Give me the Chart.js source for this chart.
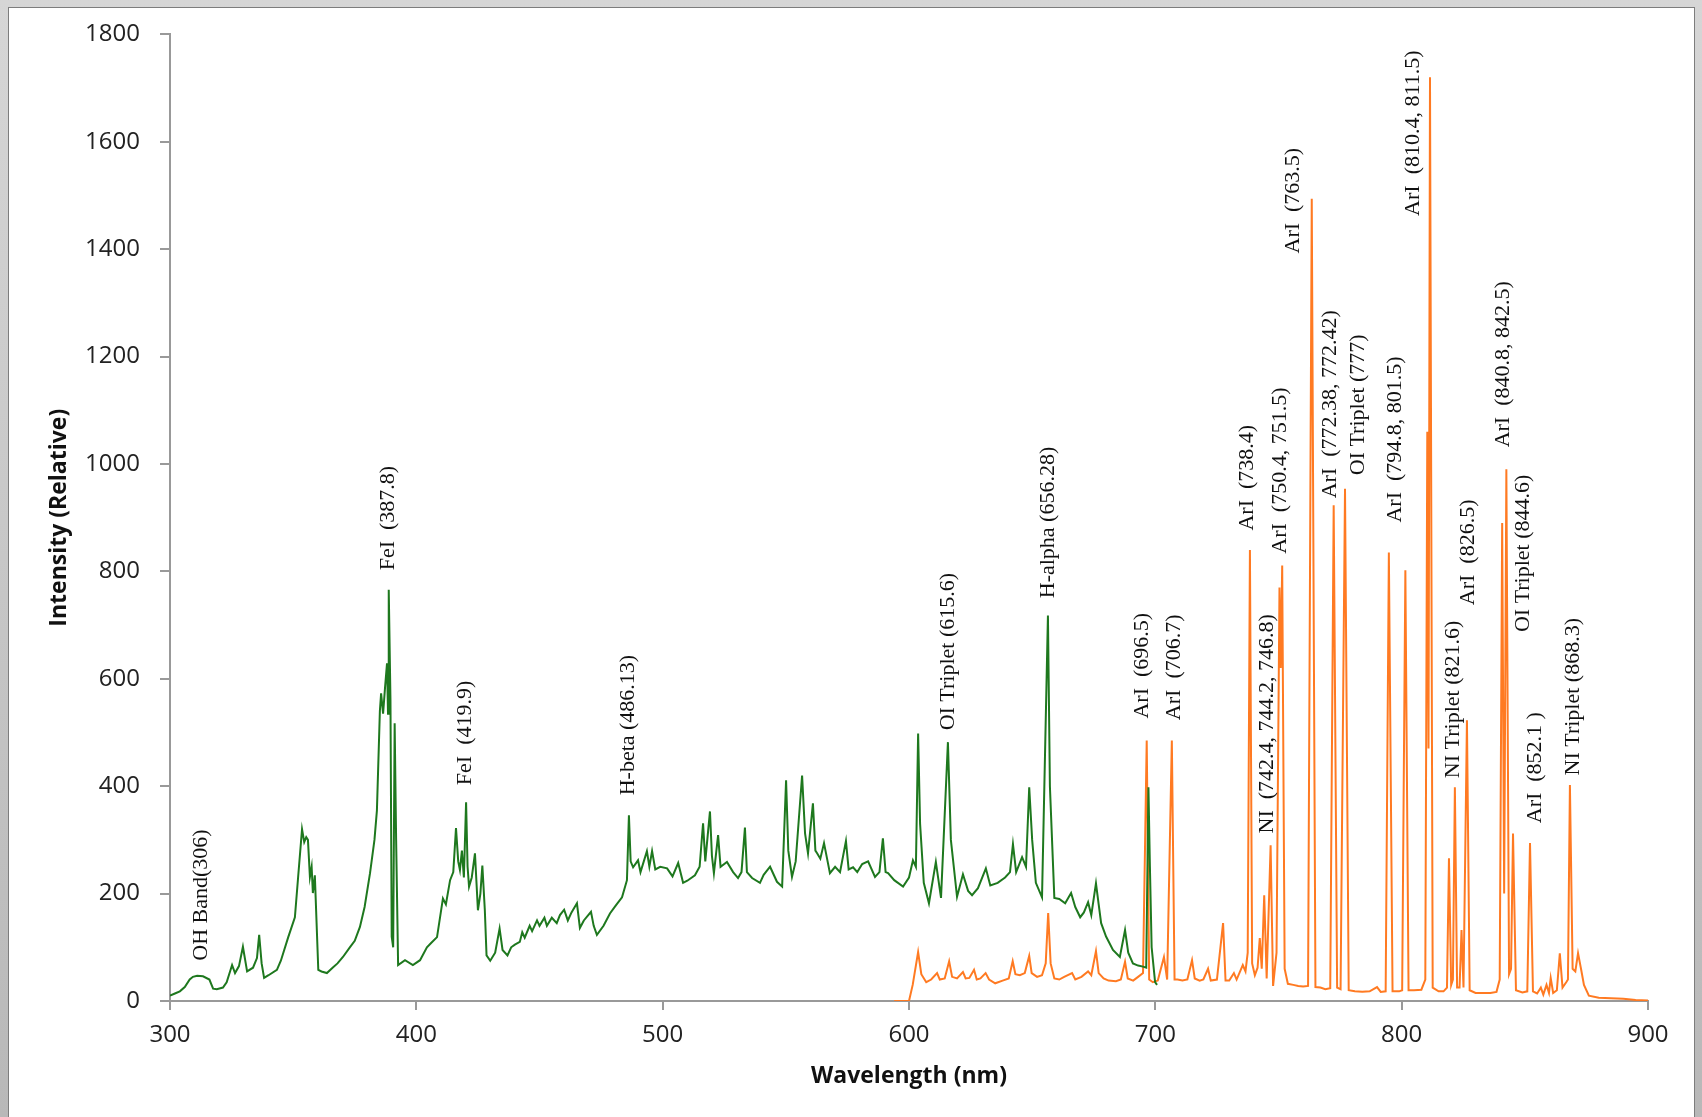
<!DOCTYPE html>
<html>
<head>
<meta charset="utf-8">
<script src="https://cdn.jsdelivr.net/npm/chart.js@4.4.0/dist/chart.umd.min.js"></script>
<style>
    html, body { margin: 0; padding: 0; overflow: hidden; }
    body { width: 1702px; height: 1117px; background: linear-gradient(#d6d6d6, #b8b8b8); position: relative; }
    #frame { position: absolute; left: 8px; top: 7px; width: 1685px; height: 1120px; background: #fff; border: 1px solid #7d7d7d; border-bottom: none; }
    #wrap { position: absolute; left: 0; top: 0; width: 1702px; height: 1117px; }
</style>
</head>
<body>
<div id="frame"></div>
<div id="wrap"><canvas id="spectrum"></canvas></div>
<script>
// axis ticks
var xTicks = [300, 400, 500, 600, 700, 800, 900];
var yTicks = [0, 200, 400, 600, 800, 1000, 1200, 1400, 1600, 1800];

// green spectrum (300 - 700 nm)
var greenWavelength = [
    300, 302, 304, 306, 308, 309.3, 311, 313.4, 316, 317.5, 319, 321.5,
    323, 325.2, 326.4, 328, 329.6, 331.3, 333.7, 335.3, 336.2, 337.2, 338.2, 340,
    343.4, 345, 348, 350.7, 352, 353.6, 354.5, 355.3, 356, 356.8, 357.5, 358,
    358.8, 360.2, 361.5, 363.7, 366, 368, 370.2, 373, 375, 377.1, 379, 381.2, 383, 384,
    385.2, 385.7, 386.5, 387.3, 388.1, 388.5, 388.8, 389.5, 390, 390.6, 391.2, 391.8,
    392.6, 395.4, 398.6, 401.5, 404.3, 406, 408.4, 410.8, 412, 413.7, 415, 416.1,
    417, 417.7, 418.5, 419.3, 420.2, 420.8, 421.4, 422.5, 423.8, 425, 426, 426.8,
    427.8, 428.5, 430, 432, 433.8, 435, 437, 438.5, 440, 442, 443, 444, 446, 447,
    449, 450, 452, 453, 455, 457, 458.3, 460, 461.5, 463, 465.2, 466.4,
    468, 470.9, 472, 473.3, 476, 478.6, 481, 483.5, 485.5, 486.3, 487, 488,
    490, 491, 493.6, 494.6, 495.7, 497, 499, 501.8, 504, 506.3, 508.3, 510,
    513.1, 515, 516.4, 517.3, 519.2, 520, 520.8, 522.5, 523.5, 526.1, 528.6, 530.6,
    532, 533.4, 534.2, 536.3, 539.5, 541, 543.6, 546.4, 548.5, 550.1, 551, 552.5,
    554, 556.6, 557.8, 559, 561, 562, 562.7, 564, 565.5, 567.9, 570, 572,
    574.4, 575.5, 577.3, 579, 581, 583.4, 586.2, 588, 589.4, 590.5, 591.5, 594,
    597.6, 600, 601.6, 602.8, 603.7, 604.5, 606, 608.1, 610.9, 613, 615.8, 617,
    619.5, 621.9, 624, 625.6, 628, 631.2, 633, 636, 639, 641, 642.2, 643.5,
    645.9, 647.5, 648.8, 650, 651.5, 654, 656.4, 657.2, 659, 661, 663.4, 665.8,
    667.5, 669.5, 671, 672.7, 674, 675.9, 677, 678, 680, 682.8, 685.6, 687.7,
    689, 690.9, 693, 695, 696.3, 697.2, 697.8, 698.5, 699.9, 700.7
];
var greenIntensity = [
    10, 14, 18, 26, 40, 45, 47, 46, 40, 23, 22, 25,
    35, 67, 52, 65, 101, 55, 62, 80, 123, 70, 43, 48,
    58, 75, 119, 156, 230, 320, 296, 305, 300, 231, 250, 201,
    234, 58, 55, 52, 62, 70, 82, 100, 112, 138, 175, 238, 300, 355,
    540, 573, 535, 584, 629, 535, 766, 560, 120, 100, 517, 300,
    67, 76, 67, 76, 100, 108, 119, 191, 180, 225, 240, 322,
    260, 244, 280, 230, 370, 250, 213, 230, 275, 169, 200, 252,
    170, 85, 75, 90, 135, 95, 85, 100, 105, 110, 128, 118, 140, 130,
    150, 140, 155, 140, 155, 145, 160, 170, 150, 165, 182, 136,
    150, 166, 140, 123, 140, 163, 178, 193, 225, 346, 260, 249,
    262, 240, 279, 250, 279, 245, 250, 247, 232, 257, 220, 224,
    234, 250, 331, 260, 353, 270, 238, 309, 250, 259, 240, 229,
    240, 323, 240, 229, 220, 235, 250, 222, 213, 411, 280, 231,
    260, 420, 312, 275, 368, 280, 275, 265, 294, 238, 250, 240,
    298, 245, 249, 240, 255, 260, 231, 240, 303, 240, 238, 225,
    213, 230, 262, 250, 498, 330, 220, 182, 259, 192, 482, 300,
    194, 236, 205, 197, 210, 247, 215, 220, 230, 240, 292, 240,
    268, 250, 398, 300, 220, 193, 718, 400, 192, 190, 182, 201,
    175, 156, 165, 184, 160, 219, 180, 145, 120, 95, 82, 132,
    90, 70, 66, 64, 62, 398, 250, 100, 35, 30
];

// orange spectrum (594 - 900 nm)
var orangeWavelength = [
    594, 600, 601.5, 603.7, 605, 607, 609, 611.4, 612.5, 614.5, 616.3, 617.5,
    619.5, 621.9, 623, 624.5, 626.4, 627.5, 629, 631.1, 632.5, 635, 638, 640.5,
    642.1, 643.2, 645, 647, 648.8, 649.8, 652, 654, 655.5, 656.5, 657.5, 659,
    661, 663, 666.2, 667.5, 670, 672.7, 674, 675.9, 677, 679, 681, 684,
    686, 687.7, 688.8, 691, 693, 695, 696.5, 697.5, 699, 701, 703.5, 704.8,
    706.7, 707.8, 709, 711, 713, 714.9, 716, 718, 719.5, 721.4, 722.5, 725,
    727.5, 728.5, 730, 731.9, 733, 735.5, 736.6, 737.5, 738.4, 739.3, 740.4, 741.5,
    742.4, 743.2, 744.2, 745.2, 746.8, 747.8, 749.2, 750.4, 750.9, 751.5, 752.5, 753.8,
    756, 758, 760, 762, 763.5, 765, 767, 769, 771, 772.4, 773.8, 775.2,
    777, 778.5, 781, 784, 787, 790, 791.5, 793.5, 794.8, 796.3, 799, 800.2,
    801.5, 802.8, 805, 808, 809.6, 810.4, 810.9, 811.5, 812.6, 815, 817, 818.4,
    819.2, 820.1, 820.8, 821.6, 822.5, 823.5, 824.3, 825.1, 826.5, 827.6, 830, 833,
    836, 838.5, 839.8, 840.8, 841.6, 842.5, 843.6, 844.4, 845.2, 846.4, 849, 851,
    852.1, 853.3, 855, 856.5, 857.5, 858.8, 859.8, 860.5, 861.5, 863, 864.2, 865.3,
    866.8, 867.5, 868.3, 869.4, 870.5, 871.6, 872.8, 874, 876, 880, 885, 890,
    895, 900
];
var orangeIntensity = [
    0, 0, 30, 91, 50, 35, 40, 52, 40, 42, 74, 45,
    42, 54, 42, 43, 58, 40, 42, 52, 40, 33, 38, 42,
    74, 50, 48, 52, 84, 52, 45, 48, 70, 164, 70, 42,
    40, 45, 52, 40, 45, 55, 48, 93, 52, 42, 38, 37,
    40, 73, 42, 38, 45, 52, 485, 40, 35, 38, 82, 40,
    485, 40, 40, 38, 40, 76, 42, 38, 40, 60, 38, 40,
    145, 38, 38, 52, 40, 67, 55, 90, 840, 70, 48, 62,
    117, 60, 197, 42, 290, 28, 90, 770, 620, 811, 60, 32,
    30, 28, 27, 28, 1494, 26, 25, 22, 24, 923, 25, 22,
    954, 20, 18, 17, 18, 26, 17, 18, 835, 18, 18, 20,
    802, 20, 20, 21, 40, 1060, 470, 1720, 25, 18, 18, 25,
    266, 30, 40, 398, 25, 25, 132, 25, 523, 20, 15, 15,
    15, 17, 40, 890, 200, 990, 50, 60, 312, 20, 16, 18,
    294, 18, 14, 25, 12, 30, 15, 43, 15, 20, 89, 25,
    35, 40, 402, 60, 55, 89, 60, 30, 10, 6, 5, 4,
    2, 1
];

// peak labels
var labelText = [
    'OH Band(306)', 'FeI  (387.8)', 'FeI  (419.9)', 'H-beta (486.13)', 'OI Triplet (615.6)',
    'H-alpha (656.28)', 'ArI  (696.5)', 'ArI  (706.7)', 'NI  (742.4, 744.2, 746.8)', 'ArI  (738.4)',
    'ArI  (750.4, 751.5)', 'ArI  (763.5)', 'ArI  (772.38, 772.42)', 'OI Triplet (777)', 'ArI  (794.8, 801.5)',
    'ArI  (810.4, 811.5)', 'NI Triplet (821.6)', 'ArI  (826.5)', 'ArI  (840.8, 842.5)', 'OI Triplet (844.6)',
    'ArI  (852.1 )', 'NI Triplet (868.3)'
];
var labelWavelength = [
    312.5, 388.5, 419.8, 486, 615.9,
    656.4, 694.6, 707.6, 745.3, 737.2,
    750.6, 755.9, 770.9, 782.3, 797.3,
    804.6, 820.9, 826.9, 841.1, 849.3,
    854.1, 869.6
];
var labelIntensity = [
    75, 802, 402, 383, 504,
    750, 526, 523, 312, 876,
    833, 1392, 936, 979, 891,
    1462, 415, 737, 1031, 687,
    331, 420
];

function toPoints(xs, ys) {
    return xs.map(function (x, i) { return { x: x, y: ys[i] }; });
}

var peakLabels = {
    id: 'peakLabels',
    afterDatasetsDraw: function (chart) {
        var ctx = chart.ctx;
        var xs = chart.scales.x, ys = chart.scales.y;
        ctx.save();
        ctx.font = '22px "Liberation Serif", "Times New Roman", serif';
        ctx.fillStyle = '#111';
        ctx.textAlign = 'left';
        ctx.textBaseline = 'middle';
        for (var i = 0; i < labelText.length; i++) {
            ctx.save();
            ctx.translate(xs.getPixelForValue(labelWavelength[i]), ys.getPixelForValue(labelIntensity[i]));
            ctx.rotate(-Math.PI / 2);
            ctx.fillText(labelText[i], 0, 0);
            ctx.restore();
        }
        ctx.restore();
    }
};

var tickFont = { family: '"Open Sans", sans-serif', size: 24 };
var titleFont = { family: '"Open Sans", sans-serif', size: 23, weight: 'bold' };

var ctx = document.getElementById('spectrum').getContext('2d');
var myChart = new Chart(ctx, {
    type: 'scatter',
    data: {
        datasets: [
            {
                label: 'Spectrum 1',
                data: toPoints(greenWavelength, greenIntensity),
                borderColor: '#1e781e',
                borderWidth: 2,
                showLine: true,
                pointRadius: 0,
                tension: 0,
            },
            {
                label: 'Spectrum 2',
                data: toPoints(orangeWavelength, orangeIntensity),
                borderColor: '#ff7a22',
                borderWidth: 2,
                showLine: true,
                pointRadius: 0,
                tension: 0,
            },
        ],
    },
    options: {
        responsive: true,
        maintainAspectRatio: false,
        animation: false,
        layout: { padding: { left: 0, top: 34, right: 54, bottom: 0 } },
        plugins: {
            legend: { display: false },
            tooltip: { enabled: false },
        },
        scales: {
            x: {
                type: 'linear',
                min: 300,
                max: 900,
                afterBuildTicks: function (axis) { axis.ticks = xTicks.map(function (v) { return { value: v }; }); },
                afterFit: function (axis) { axis.height = 116; },
                ticks: { font: tickFont, color: '#222', padding: 11, maxRotation: 0, callback: function (v) { return String(v); } },
                grid: { drawOnChartArea: false, drawTicks: true, tickLength: 9, color: '#999', lineWidth: 2 },
                border: { color: '#999', width: 2 },
                title: { display: true, text: 'Wavelength (nm)', font: titleFont, color: '#111', padding: { top: 0, bottom: 27 } },
            },
            y: {
                min: 0,
                max: 1800,
                afterBuildTicks: function (axis) { axis.ticks = yTicks.map(function (v) { return { value: v }; }); },
                afterFit: function (axis) { axis.width = 170; },
                ticks: { font: tickFont, color: '#222', padding: 20, callback: function (v) { return String(v); } },
                grid: { drawOnChartArea: false, drawTicks: true, tickLength: 10, color: '#999', lineWidth: 2 },
                border: { color: '#999', width: 2 },
                title: { display: true, text: 'Intensity (Relative)', font: titleFont, color: '#111', padding: { top: 46, bottom: 0 } },
            },
        },
    },
    plugins: [peakLabels],
});
</script>
</body>
</html>
